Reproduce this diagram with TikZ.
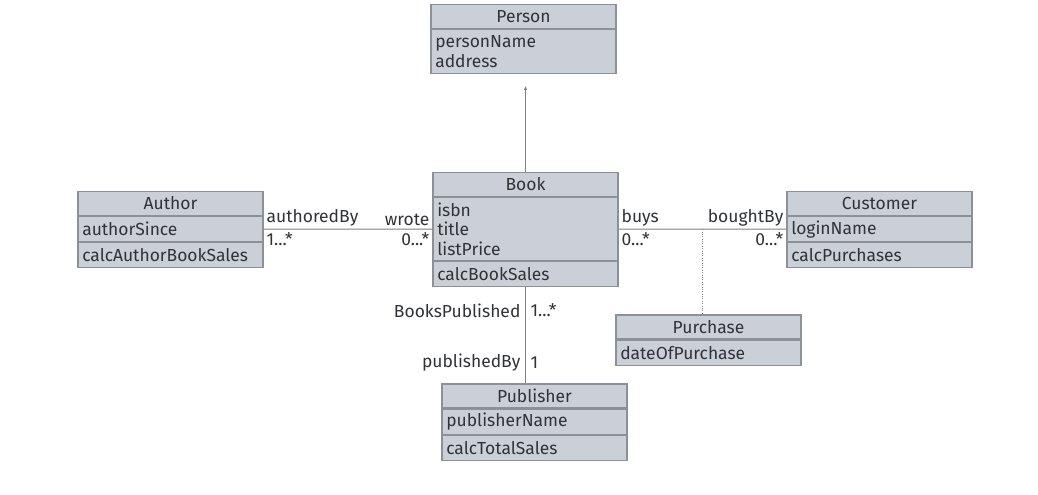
\documentclass[tikz,border=0pt]{standalone}
\usepackage{fontspec}
\setmainfont{Fira Sans}
\usetikzlibrary{arrows.meta, positioning, calc}

\definecolor{classfill}{HTML}{CBD0D8}
\definecolor{classline}{HTML}{8C9097}
\definecolor{classtext}{HTML}{303236}

\begin{document}
\begin{tikzpicture}[
  x=0.025cm, y=-0.025cm,
  classhead/.style={rectangle, draw=classline, fill=classfill, line width=0.8pt,
                    minimum width=4.625cm, minimum height=0.6cm, inner sep=0pt,
                    font=\fontsize{12.4}{13.8}\selectfont, text=classtext},
  classpart/.style={classhead, text width=4.41cm, align=left, inner xsep=3pt,
                    minimum height=0.625cm},
  role/.style={font=\fontsize{12.4}{13.8}\selectfont, text=classtext, inner sep=2pt},
  assoc/.style={draw=black!50, line width=0.7pt},
  >=Stealth
]
\useasboundingbox (0,0) rectangle (1038,494);

% ── Classes ──
\node[classhead] (person) at (523.5,16.5) {Person};
\node[classpart, minimum height=1.1cm, below=0pt of person] (personattr) {personName\\address};

\node[classhead] (book) at (525.5,184.5) {Book};
\node[classpart, minimum height=1.575cm, below=0pt of book] (bookattr) {isbn\\title\\listPrice};
\node[classpart, below=0pt of bookattr] (bookops) {calcBookSales};

\node[classhead] (author) at (170.5,203.5) {Author};
\node[classpart, below=0pt of author] (authorattr) {authorSince};
\node[classpart, below=0pt of authorattr] (authorops) {calcAuthorBookSales};

\node[classhead] (customer) at (879.5,203.5) {Customer};
\node[classpart, below=0pt of customer] (customerattr) {loginName};
\node[classpart, below=0pt of customerattr] (customerops) {calcPurchases};

\node[classhead] (purchase) at (708.5,327) {Purchase};
\node[classpart, below=0pt of purchase] (purchaseattr) {dateOfPurchase};

\node[classhead] (publisher) at (534.5,396) {Publisher};
\node[classpart, below=0pt of publisher] (publisherattr) {publisherName};
\node[classpart, below=0pt of publisherattr] (publisherops) {calcTotalSales};

% ── Connectors ──
\draw[assoc, -{Stealth[length=3pt, width=2.5pt]}, shorten >=0.3cm]
  (book.north) -- (book.north |- personattr.south);
\draw[assoc] (authorattr.east) -- (bookattr.west);
\draw[assoc] (bookattr.east) -- (customerattr.west);
\coordinate (buymid) at ($(bookattr.east)!0.5!(customerattr.west)$);
\draw[assoc, densely dotted] (buymid) -- (buymid |- purchase.north);
\coordinate (pubtop) at (bookops.south |- publisher.north);
\draw[assoc] (bookops.south) -- (pubtop);

% ── Role names and multiplicities ──
\node[role, anchor=south west] (authoredby) at (authorattr.east) {authoredBy};
\node[role, anchor=north west] (authormult) at (authorattr.east) {1...*};
\node[role, anchor=south east] (wrote) at (bookattr.west) {wrote};
\node[role, anchor=north east] (wrotemult) at (bookattr.west) {0...*};

\node[role, anchor=south west] (buys) at (bookattr.east) {buys};
\node[role, anchor=north west] (buysmult) at (bookattr.east) {0...*};
\node[role, anchor=south east] (boughtby) at (customerattr.west) {boughtBy};
\node[role, anchor=north east] (boughtmult) at (customerattr.west) {0...*};

\node[role, anchor=east] (bookspub) at ($(bookops.south)+(-2,23)$) {BooksPublished};
\node[role, anchor=west] (bookspubmult) at ($(bookops.south)+(2,23)$) {1...*};
\node[role, anchor=east] (pubby) at ($(pubtop)+(-2,-21)$) {publishedBy};
\node[role, anchor=west] (pubbymult) at ($(pubtop)+(2,-21)$) {1};

\end{tikzpicture}
\end{document}
